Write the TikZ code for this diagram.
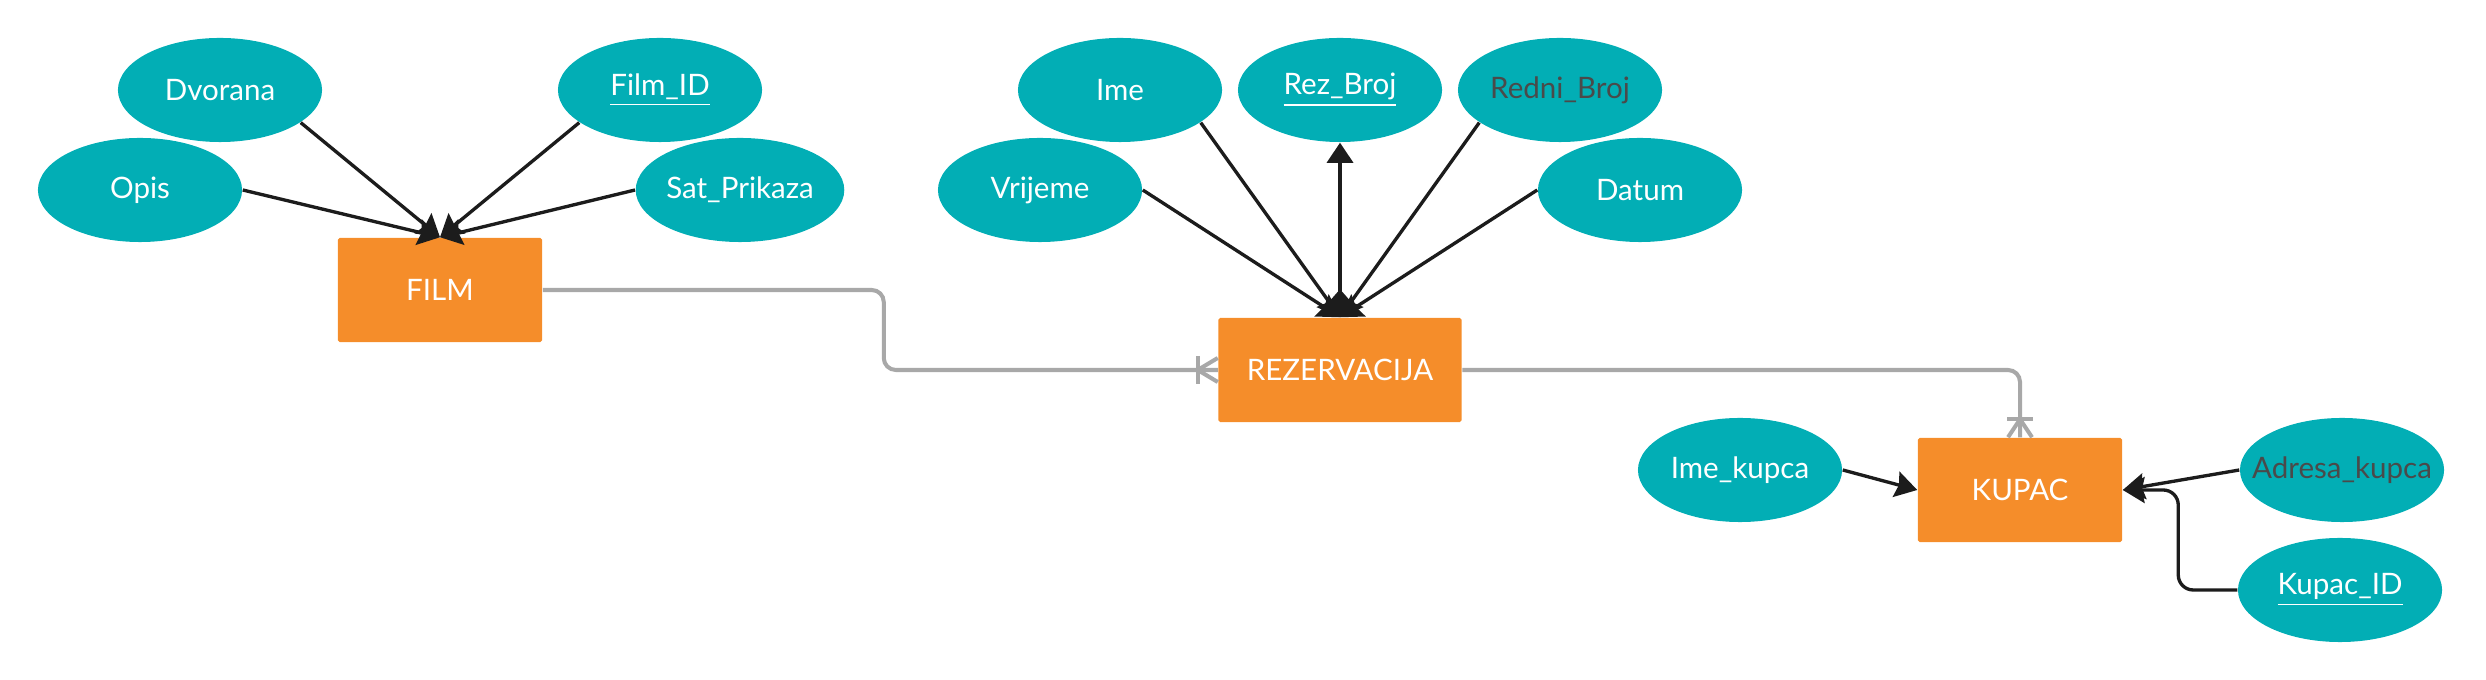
\documentclass[tikz,border=0pt]{standalone}
\usepackage{fontspec}
\setmainfont{Lato}
\usetikzlibrary{arrows.meta,shapes.geometric}
\definecolor{attrteal}{HTML}{02AEB5}
\definecolor{entorange}{HTML}{F58D2A}
\definecolor{relgray}{HTML}{A8A8A8}
\definecolor{arrowblack}{HTML}{1C1C1C}
\definecolor{darktext}{HTML}{4A4A4A}
\newcommand{\erfont}{\fontsize{8.4pt}{10pt}\selectfont}

\begin{document}
\begin{tikzpicture}[x=0.01cm,y=-0.01cm,
		attr/.style={ellipse,fill=attrteal,minimum width=2.04cm,minimum height=1.04cm,inner sep=0pt,text=white,font=\erfont},
		entity/.style={rectangle,fill=entorange,rounded corners=0.5pt,minimum width=2.04cm,minimum height=1.04cm,text=white,font=\erfont},
		attrarrow/.style={draw=arrowblack,line width=0.95pt,-{Stealth[length=6.2pt,width=7.4pt,inset=0.8pt]}},
		rel/.style={draw=relgray,line width=1.15pt,rounded corners=0.12cm},
		crowfoot/.style={draw=relgray,line width=1.15pt,sharp corners}]
		\useasboundingbox (0,0) rectangle (2486,680);

		% entities
		\node[entity] (film) at (440,290) {FILM};
		\node[entity,minimum width=2.43cm] (rez) at (1340,370) {REZERVACIJA};
		\node[entity] (kupac) at (2020,490) {KUPAC};

		% attributes of FILM
		\node[attr] (dvorana) at (220,90) {Dvorana};
		\node[attr] (filmid) at (660,90) {\underline{Film\_ID}};
		\node[attr] (opis) at (140,190) {Opis};
		\node[attr] (satprikaza) at (740,190) {Sat\_Prikaza};

		% attributes of REZERVACIJA
		\node[attr] (ime) at (1120,90) {Ime};
		\node[attr] (rezbroj) at (1340,90) {\underline{Rez\_Broj}};
		\node[attr,text=darktext] (redni) at (1560,90) {Redni\_Broj};
		\node[attr] (vrijeme) at (1040,190) {Vrijeme};
		\node[attr] (datum) at (1640,190) {Datum};

		% attributes of KUPAC
		\node[attr] (imekupca) at (1740,470) {Ime\_kupca};
		\node[attr,text=darktext] (adresa) at (2342,470) {\makebox[1.3cm]{Adresa\_kupca}};
		\node[attr] (kupacid) at (2340,590) {\underline{Kupac\_ID}};

		\draw[attrarrow] (dvorana.-22) -- (film.north);
		\draw[attrarrow] (filmid.-158) -- (film.north);
		\draw[attrarrow] (opis.east) -- (film.north);
		\draw[attrarrow] (satprikaza.west) -- (film.north);

		\draw[attrarrow] (ime.-22) -- (rez.north);
		\draw[attrarrow] (redni.-158) -- (rez.north);
		\draw[attrarrow] (vrijeme.east) -- (rez.north);
		\draw[attrarrow] (datum.west) -- (rez.north);
		\draw[attrarrow,-{Triangle[length=5.7pt,width=7.4pt]}] (rez.north) -- (rezbroj.south);

		\draw[attrarrow] (imekupca.east) -- (kupac.west);
		\draw[attrarrow] (adresa.west) -- (kupac.east);
		\draw[attrarrow,rounded corners=0.15cm] (kupacid.west) -- ++(-59,0) |- (kupac.east);

		% relationships (one or many)
		\draw[rel] (film.east) -- ++(341,0) |- (rez.west);
		\draw[crowfoot] ([xshift=-0.2cm,yshift=0.14cm]rez.west) -- ([xshift=-0.2cm,yshift=-0.14cm]rez.west);
		\draw[crowfoot] ([yshift=0.12cm]rez.west) -- ([xshift=-0.2cm]rez.west) -- ([yshift=-0.12cm]rez.west);
		\draw[rel] (rez.east) -| (kupac.north);
		\draw[crowfoot] ([xshift=-0.13cm,yshift=0.18cm]kupac.north) -- ([xshift=0.13cm,yshift=0.18cm]kupac.north);
		\draw[crowfoot] ([xshift=-0.12cm]kupac.north) -- ([yshift=0.18cm]kupac.north) -- ([xshift=0.12cm]kupac.north);
	\end{tikzpicture}
\end{document}
